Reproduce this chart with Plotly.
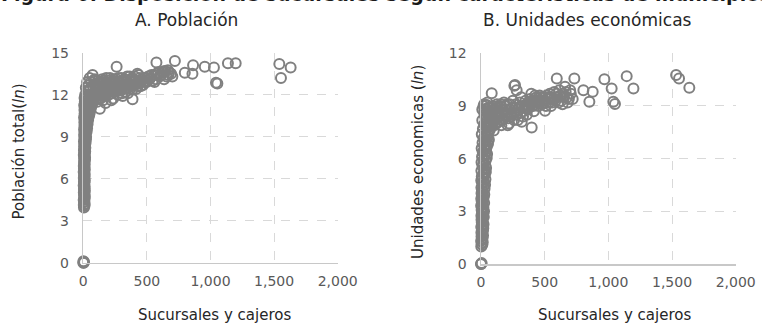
import plotly.graph_objects as go

# ---------------- data ----------------
# Panel A: Sucursales y cajeros (x) vs Población total, ln (y)
# municipalities with no data (0, 0)
zeroA_x = [0, 3, 6, 1]
zeroA_y = [0, 0, 0.05, 0.1]

# dense column of municipalities with very few branches
colA_y = [3.95, 4.05, 4.12, 4.2, 4.31, 4.38, 4.47, 4.55, 4.66, 4.72,
          4.83, 4.9, 5.01, 5.08, 5.17, 5.26, 5.34, 5.45, 5.52, 5.6,
          5.71, 5.78, 5.87, 5.96, 6.05, 6.13, 6.22, 6.3, 6.41, 6.48,
          6.57, 6.66, 6.74, 6.83, 6.9, 7.01, 7.09, 7.18, 7.27, 7.35,
          7.44, 7.52, 7.61, 7.7, 7.78, 7.87, 7.95, 8.04, 8.13, 8.21,
          8.3, 8.39, 8.47, 8.56, 8.65, 8.73, 8.82, 8.9, 8.99, 9.08,
          9.16, 9.25, 9.34, 9.42, 9.51, 9.6, 9.68, 9.77, 9.86, 9.94,
          10.03, 10.12, 10.2, 10.29, 10.38, 10.46, 10.55, 10.64, 10.72, 10.81,
          10.9, 10.98, 11.07, 11.16, 11.24, 11.33, 11.42, 11.5, 11.59, 11.68,
          11.76, 11.85]
colA_x = [5, 9, 4, 11, 6, 8, 3, 10, 7, 12,
          6, 10, 4, 9, 12, 5, 8, 11, 3, 7,
          9, 5, 12, 7, 4, 10, 6, 11, 8, 3,
          7, 12, 5, 9, 4, 11, 8, 6, 10, 13,
          6, 14, 9, 4, 12, 8, 15, 5, 11, 16,
          6, 14, 9, 18, 5, 12, 20, 8, 16, 10,
          7, 18, 11, 22, 6, 15, 24, 9, 20, 13,
          8, 22, 12, 28, 6, 18, 30, 10, 25, 14,
          9, 26, 15, 32, 7, 20, 35, 12, 28, 17,
          10, 20]

# widening part of the cloud (20-100 branches)
wideA_x = [18, 22, 15, 26, 20, 30, 24, 34, 28, 38, 22, 42, 32, 48, 26, 52, 38, 58, 30, 62,
           45, 68, 35, 72, 55, 80, 40, 85, 62, 25, 90, 48, 70, 15, 35, 95, 55, 20, 78, 42,
           60, 30, 85, 50, 73]
wideA_y = [8.8, 9.0, 9.2, 9.35, 9.5, 9.6, 9.75, 9.9, 10.05, 10.2, 10.3, 10.4, 10.5, 10.6, 10.7, 10.8, 10.9, 11.0, 11.1, 11.15,
           11.25, 11.3, 11.4, 11.45, 11.55, 11.6, 11.7, 11.7, 11.8, 11.9, 11.85, 12.0, 12.05, 12.0, 12.3, 12.1, 12.4, 12.5, 12.5, 12.7,
           12.9, 12.9, 13.0, 13.2, 13.4]

# main band and outliers
bandA_x = [100, 110, 120, 90, 130, 140, 150, 160, 175, 185, 195, 210, 220, 230, 245, 235, 260, 270, 280, 262,
           300, 310, 320, 335, 350, 365, 380, 387, 400, 415, 425, 440, 459, 470, 498, 510, 524, 545, 560, 577,
           575, 600, 620, 642, 655, 668, 690, 720, 798, 858, 863, 955, 1027, 1043, 1054, 1137, 1198, 1541, 1554, 1630,
           105, 115, 125, 145, 155, 170, 180, 200, 215, 235, 255, 275, 295, 315, 330, 345, 360, 375, 390, 405,
           420, 435, 450, 485, 535, 570, 610, 635, 675, 700, 590, 560, 630, 665, 135, 165, 190, 225, 250, 285,
           102, 108, 118, 128, 132, 142, 148, 158, 162, 172, 178, 188, 198, 205, 212, 225, 232, 240, 248, 258,
           266, 278, 290, 298, 305, 318, 326, 340, 355, 368, 372, 385, 395, 410, 428, 445, 455, 480, 505, 520]
bandA_y = [12.0, 11.5, 12.8, 13.1, 11.0, 11.8, 12.4, 13.0, 11.4, 12.1, 12.7, 13.2, 11.6, 12.3, 12.9, 11.73, 13.1, 12.0, 12.6, 14.0,
           13.2, 11.9, 12.4, 12.9, 12.1, 13.3, 12.6, 11.67, 13.0, 12.4, 13.5, 12.9, 13.1, 12.7, 12.9, 13.3, 13.2, 13.0, 13.4, 13.5,
           14.3, 13.3, 13.6, 13.7, 13.3, 13.4, 13.5, 14.4, 13.57, 13.5, 14.1, 14.0, 13.95, 12.85, 12.8, 14.25, 14.25, 14.2, 13.2, 13.95,
           12.3, 13.0, 12.0, 12.9, 11.6, 12.6, 13.2, 12.0, 12.6, 13.0, 12.3, 13.2, 12.5, 13.0, 12.2, 13.3, 12.7, 13.1, 12.4, 13.3,
           12.8, 13.4, 12.6, 13.2, 13.4, 13.1, 13.4, 13.1, 13.6, 13.3, 13.6, 12.9, 13.65, 13.75, 12.5, 12.2, 12.5, 12.8, 12.6, 12.9,
           12.6, 11.9, 12.4, 12.9, 11.7, 12.2, 13.1, 12.0, 12.7, 11.9, 12.9, 12.4, 13.0, 12.2, 12.8, 12.1, 12.6, 13.1, 12.2, 12.7,
           12.4, 12.9, 12.3, 12.8, 12.1, 12.7, 13.1, 12.5, 12.8, 12.4, 12.9, 13.2, 12.7, 13.0, 12.6, 13.2, 12.9, 12.9, 13.0, 13.1]

# Panel B: Sucursales y cajeros (x) vs Unidades económicas, ln (y)
zeroB_x = [0, 2, 5]
zeroB_y = [0, 0, 0.05]

colB_y = [1.0, 1.08, 1.15, 1.24, 1.31, 1.4, 1.47, 1.56, 1.63, 1.72,
          1.79, 1.88, 1.95, 2.04, 2.11, 2.2, 2.27, 2.36, 2.43, 2.52,
          2.59, 2.68, 2.75, 2.84, 2.91, 3.0, 3.07, 3.16, 3.23, 3.32,
          3.39, 3.48, 3.55, 3.64, 3.71, 3.8, 3.87, 3.96, 4.03, 4.12,
          4.19, 4.28, 4.35, 4.44, 4.51, 4.6, 4.67, 4.76, 4.83, 4.92,
          4.99, 5.08, 5.15, 5.24, 5.31, 5.4, 5.47, 5.56, 5.63, 5.72,
          5.79, 5.88, 5.95, 6.04, 6.11, 6.2, 6.27, 6.36, 6.43, 6.52,
          6.59, 6.68, 6.75, 6.84, 6.91, 7.0, 7.07, 7.16, 7.23, 7.32,
          7.39, 7.48, 7.55, 7.64, 7.71, 7.8, 7.87, 7.96, 8.03, 8.12,
          8.19, 8.28, 8.35, 8.44, 8.51, 8.6]
colB_x = [2, 10, 5, 14, 1, 8, 12, 4, 16, 7,
          3, 15, 9, 18, 2, 11, 20, 6, 13, 4,
          10, 22, 3, 16, 8, 24, 5, 14, 19, 1,
          12, 25, 6, 17, 2, 21, 9, 26, 4, 15,
          8, 28, 3, 18, 32, 10, 24, 2, 35, 14,
          6, 30, 20, 38, 3, 26, 40, 12, 34, 18,
          4, 36, 22, 45, 8, 30, 48, 14, 40, 25,
          5, 45, 28, 55, 12, 38, 62, 20, 50, 32,
          6, 58, 35, 70, 15, 48, 78, 25, 65, 42,
          10, 68, 40, 85, 28, 55]

wideB_x = [40, 50, 60, 45, 70, 80, 30, 55, 65, 20, 90, 75, 35, 100, 85, 10, 25, 50]
wideB_y = [6.8, 7.2, 7.6, 8.0, 7.9, 8.2, 8.5, 8.6, 8.9, 9.0, 8.6, 8.3, 8.8, 8.1, 8.9, 8.8, 9.1, 9.2]

bandB_x = [30, 50, 40, 60, 35, 70, 25, 55, 45, 84, 90, 100, 110, 120, 135, 150, 160, 175, 190, 205,
           220, 240, 262, 267, 280, 270, 290, 305, 320, 335, 350, 370, 385, 398, 410, 425, 440, 460, 480, 503,
           520, 540, 560, 575, 595, 600, 615, 630, 645, 660, 675, 690, 705, 733, 804, 851, 877, 969, 1026, 1039,
           1052, 1144, 1197, 1532, 1555, 1636,
           85, 95, 105, 115, 125, 140, 145, 165, 180, 200, 210, 230, 250, 260, 285, 300, 315, 330, 345, 360,
           378, 395, 415, 430, 450, 470, 490, 510, 530, 550, 585, 620, 640, 665, 680, 700, 720, 650, 610,
           88, 98, 108, 118, 128, 138, 148, 155, 168, 172, 185, 195, 208, 215, 225, 235, 245, 255, 275, 280,
           295, 310, 325, 340, 355, 365, 375, 390, 405, 420, 435, 445, 465, 485, 500, 515, 535, 555, 570, 590]
bandB_y = [7.0, 7.4, 7.8, 8.0, 8.3, 8.5, 8.7, 8.9, 9.05, 9.72, 8.2, 7.6, 8.8, 8.0, 8.6, 9.0, 7.9, 8.3, 8.8, 9.1,
           8.0, 8.5, 10.15, 10.19, 9.9, 8.9, 8.2, 9.2, 8.1, 8.7, 9.3, 8.9, 9.4, 7.78, 9.0, 9.6, 9.3, 9.6, 9.1, 8.73,
           9.4, 9.7, 9.2, 9.8, 10.57, 9.5, 9.9, 9.3, 9.7, 10.1, 9.5, 9.4, 9.7, 10.57, 9.9, 9.24, 9.81, 10.52, 10.0, 9.24,
           9.11, 10.7, 10.0, 10.76, 10.57, 10.04,
           8.6, 9.0, 7.9, 8.4, 9.1, 8.1, 8.9, 8.6, 9.2, 8.4, 7.9, 8.8, 9.3, 8.2, 8.6, 8.9, 9.5, 8.4, 9.0, 8.5,
           9.2, 9.7, 8.7, 9.3, 9.0, 9.5, 9.3, 9.0, 9.5, 9.0, 9.3, 9.6, 9.1, 9.8, 9.2, 9.9, 9.4, 9.5, 9.2,
           8.3, 8.8, 8.4, 8.9, 8.3, 8.7, 8.4, 9.1, 8.2, 8.8, 8.5, 9.0, 8.6, 8.3, 9.1, 8.4, 8.9, 8.6, 9.1, 8.5,
           8.8, 8.6, 9.0, 8.9, 9.1, 8.8, 9.0, 9.1, 9.3, 9.1, 9.5, 9.2, 9.3, 9.5, 9.2, 9.6, 9.2, 9.5, 9.4, 9.7]

pob_x = zeroA_x + colA_x + wideA_x + bandA_x
pob_y = zeroA_y + colA_y + wideA_y + bandA_y
ue_x = zeroB_x + colB_x + wideB_x + bandB_x
ue_y = zeroB_y + colB_y + wideB_y + bandB_y

x_ticks = [0, 500, 1000, 1500, 2000]
x_ticktext = ["0", "500", "1,000", "1,500", "2,000"]
pob_ticks = [0, 3, 6, 9, 12, 15]
ue_ticks = [0, 3, 6, 9, 12]

main_title = "Figura 6. Disposición de sucursales según características de municipios"
title_a = "A. Población"
title_b = "B. Unidades económicas"
xtitle = "Sucursales y cajeros"
ytitle_a = "Población total(<i>ln</i>)"
ytitle_b = "Unidades economicas (<i>ln</i>)"

# ---------------- figure ----------------
W, H = 762, 323
FONT = "DejaVu Sans"
GRAY = "#808080"
TXT = "#262626"


def fx(p):
    return p / W


def fy(p):
    return 1 - p / H


fig = go.Figure()
marker = dict(symbol="circle-open", size=10, color=GRAY, line=dict(width=2, color=GRAY))
fig.add_trace(go.Scatter(x=pob_x, y=pob_y, mode="markers", marker=marker,
                         xaxis="x", yaxis="y", cliponaxis=False, showlegend=False, hoverinfo="skip"))
fig.add_trace(go.Scatter(x=ue_x, y=ue_y, mode="markers", marker=marker,
                         xaxis="x2", yaxis="y2", cliponaxis=False, showlegend=False, hoverinfo="skip"))

axis_common = dict(showgrid=True, gridcolor="#d9d9d9", griddash="dash", gridwidth=1,
                   zeroline=False, showline=True, linecolor="#c8c8c8", linewidth=1.5,
                   ticks="", tickfont=dict(family=FONT, size=14, color="#595959"),
                   fixedrange=True)

fig.update_layout(
    width=W, height=H,
    margin=dict(l=0, r=0, t=0, b=0, autoexpand=False),
    paper_bgcolor="white", plot_bgcolor="white",
    font=dict(family=FONT, color=TXT),
    hovermode=False,
    xaxis=dict(domain=[fx(83.3), fx(337.7)], range=[0, 2000], tickvals=x_ticks, ticktext=x_ticktext,
               anchor="y", ticklabelstandoff=5, **axis_common),
    yaxis=dict(domain=[fy(262.7), fy(52.7)], range=[0, 15], tickvals=pob_ticks,
               anchor="x", ticklabelstandoff=10, **axis_common),
    xaxis2=dict(domain=[fx(481), fx(735.7)], range=[0, 2000], tickvals=x_ticks, ticktext=x_ticktext,
                anchor="y2", ticklabelstandoff=5, **axis_common),
    yaxis2=dict(domain=[fy(264), fy(53.3)], range=[0, 12], tickvals=ue_ticks,
                anchor="x2", ticklabelstandoff=10, **axis_common),
)

ann = [
    dict(text="<b>" + main_title + "</b>", x=fx(-1), y=fy(-6), xanchor="left", yanchor="middle",
         font=dict(size=19, color="#1a1a1a")),
    dict(text=title_a, x=fx(186.5), y=fy(20), xanchor="center", yanchor="middle",
         font=dict(size=17, color=TXT)),
    dict(text=title_b, x=fx(587.5), y=fy(20), xanchor="center", yanchor="middle",
         font=dict(size=17, color=TXT)),
    dict(text=xtitle, x=fx(214), y=fy(315), xanchor="center", yanchor="middle",
         font=dict(size=15, color=TXT)),
    dict(text=xtitle, x=fx(614), y=fy(315), xanchor="center", yanchor="middle",
         font=dict(size=15, color=TXT)),
    dict(text=ytitle_a, x=fx(18.5), y=fy(152), xanchor="center", yanchor="middle", textangle=-90,
         font=dict(size=15, color=TXT)),
    dict(text=ytitle_b, x=fx(418), y=fy(162), xanchor="center", yanchor="middle", textangle=-90,
         font=dict(size=15, color=TXT)),
]
for a in ann:
    a.update(xref="paper", yref="paper", showarrow=False)
fig.update_layout(annotations=ann)

fig.write_html("out.html", config={"displayModeBar": False, "staticPlot": True},
               post_script="document.body.style.margin='0';")
